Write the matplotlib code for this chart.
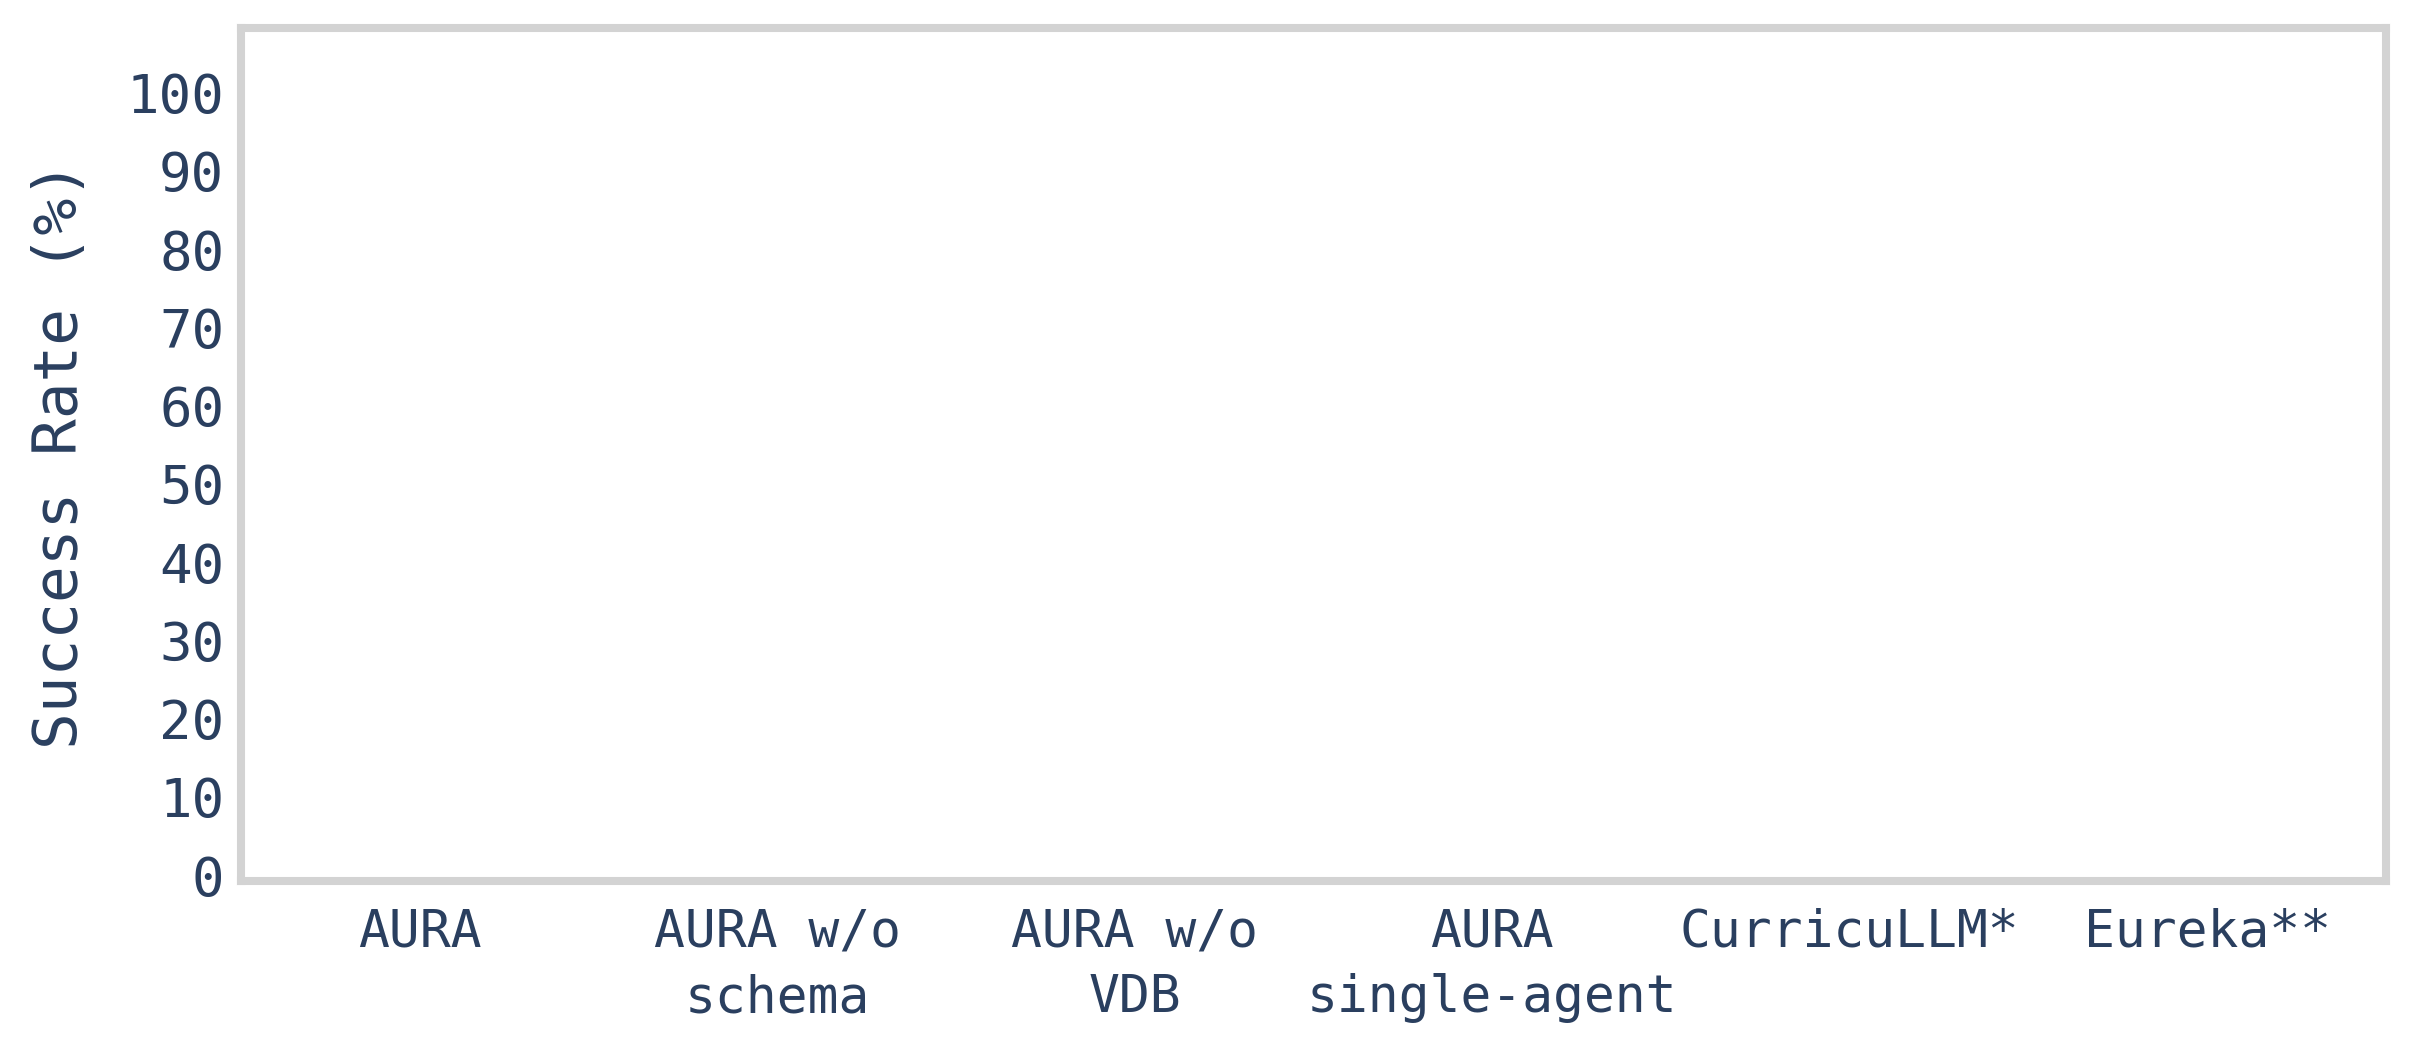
import matplotlib
matplotlib.use("Agg")
import matplotlib.pyplot as plt
import matplotlib.transforms as mtransforms
import numpy as np

categories = ["AURA", "AURA w/o\nschema", "AURA w/o\nVDB", "AURA\nsingle-agent", "CurricuLLM*", "Eureka**"]
success_rate = [0, 0, 0, 0, 0, 0]
y_ticks = [0, 10, 20, 30, 40, 50, 60, 70, 80, 90, 100]

TEXT = "#2a3f5f"
plt.rcParams['font.family'] = ['DejaVu Sans Mono', 'DejaVu Sans']

fig = plt.figure(figsize=(12.05, 5.245), dpi=200)
ax = fig.add_axes([0.100, 0.160, 0.890, 0.813])

x = np.arange(len(categories))
ax.bar(x, success_rate, width=0.8, color="#636efa", linewidth=0)

ax.set_xlim(-0.5, len(categories) - 0.5)
ax.set_ylim(0, 109)
ax.set_yticks(y_ticks)
ax.set_xticks(x)
ax.set_xticklabels(categories, fontsize=18.5, color=TEXT, linespacing=1.4)
ax.set_yticklabels([str(t) for t in y_ticks], fontsize=19.5, color=TEXT)
ax.tick_params(axis='both', length=0)
ax.tick_params(axis='y', pad=6)
ax.tick_params(axis='x', pad=9.5)
ax.set_ylabel("Success Rate (%)", fontsize=22, color=TEXT, labelpad=13)

offset = mtransforms.ScaledTranslation(0, 0.03, fig.dpi_scale_trans)
for lab in ax.get_yticklabels():
    lab.set_transform(lab.get_transform() + offset)

for s in ax.spines.values():
    s.set_color("#d3d3d3")
    s.set_linewidth(2.9)

fig.savefig("out.png", dpi=200, facecolor="white")
